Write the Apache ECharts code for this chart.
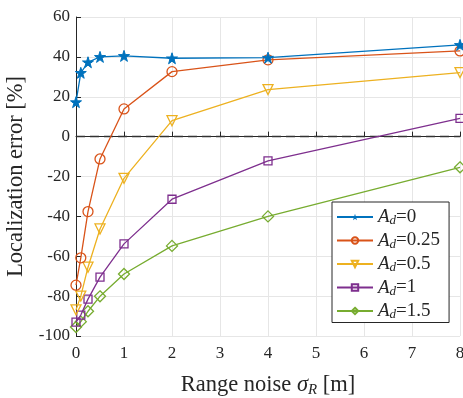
<!DOCTYPE html>
<html><head><meta charset="utf-8">
<script src="https://cdn.jsdelivr.net/npm/echarts@6/dist/echarts.min.js"></script>
<style>html,body{margin:0;padding:0;background:#fff}#c{width:463px;height:398px}</style>
</head><body><div id="c"></div>
<script>
const xValues = [0, 0.1, 0.25, 0.5, 1, 2, 4, 8];
const seriesNames = ['A_d=0', 'A_d=0.25', 'A_d=0.5', 'A_d=1', 'A_d=1.5'];
const legendLabels = ['0', '0.25', '0.5', '1', '1.5'];
const ad0 = [17.3, 32, 37.3, 40, 40.5, 39.3, 39.6, 46];
const ad025 = [-74.5, -60.8, -37.6, -11.2, 13.9, 32.6, 38.5, 43];
const ad05 = [-86.9, -80, -65.5, -46.3, -20.9, 8, 23.6, 32.1];
const ad1 = [-93, -89.5, -81.5, -70.5, -53.8, -31.4, -12.2, 9.2];
const ad15 = [-95.5, -92.8, -87.6, -80.1, -68.9, -54.8, -40, -15.4];
const yTicks = [-100, -80, -60, -40, -20, 0, 20, 40, 60];
const xTicks = [0, 1, 2, 3, 4, 5, 6, 7, 8];

const colors = ['#0072BD', '#D95319', '#EDB120', '#7E2F8E', '#77AC30'];
const symbols = [
  'path://M50,0 L61.8,35.3 L98.6,35.3 L68.9,57.1 L80.2,92.4 L50,70.6 L19.8,92.4 L31.1,57.1 L1.4,35.3 L38.2,35.3 Z',
  'circle',
  'path://M0,0 L100,0 L50,86 Z',
  'rect',
  'diamond'
];
const sizes = [11, 10, 10, 8, 11];
const allData = [ad0, ad025, ad05, ad1, ad15];
const serif = '"Liberation Serif", "DejaVu Serif", serif';

const series = allData.map((d, i) => ({
  name: seriesNames[i],
  type: 'line',
  data: xValues.map((x, j) => [x, d[j]]),
  symbol: symbols[i],
  symbolSize: sizes[i],
  showSymbol: true,
  z: 10 - i,
  lineStyle: { color: colors[i], width: 1.3 },
  itemStyle: i === 0 ? { color: colors[i], borderColor: colors[i] } :
    { color: 'rgba(255,255,255,0)', borderColor: colors[i], borderWidth: 1.3 },
  emphasis: { disabled: true },
  markLine: i === 0 ? {
    silent: true, symbol: 'none', animation: false,
    label: { show: false },
    lineStyle: { color: '#333', type: [9, 5], width: 1.3 },
    data: [{ yAxis: 0 }]
  } : undefined
}));

const chart = echarts.init(document.getElementById('c'));
chart.setOption({
  animation: false,
  backgroundColor: '#fff',
  grid: { left: 76, right: 3, top: 17, bottom: 62, containLabel: false, outerBoundsMode: 'none' },
  xAxis: {
    type: 'value', min: 0, max: 8, interval: 1,
    axisLine: { lineStyle: { color: '#262626', width: 1 } },
    axisTick: { inside: true, length: 5, lineStyle: { color: '#262626' } },
    axisLabel: { color: '#262626', fontFamily: serif, fontSize: 17, margin: 9,
      formatter: v => String(xTicks[xTicks.indexOf(v)]) },
    splitLine: { show: true, lineStyle: { color: '#e6e6e6', width: 1 } },
    name: 'Range noise {i|σ}{s|R} [m]',
    nameLocation: 'middle', nameGap: 37,
    nameTextStyle: { color: '#262626', fontFamily: serif, fontSize: 22.5,
      rich: {
        i: { fontFamily: serif, fontStyle: 'italic', fontSize: 22.5, color: '#262626' },
        s: { fontFamily: serif, fontStyle: 'italic', fontSize: 15, color: '#262626', padding: [10, 0, 0, 0] }
      } }
  },
  yAxis: {
    type: 'value', min: -100, max: 60, interval: 20,
    axisLine: { show: true, lineStyle: { color: '#262626', width: 1 } },
    axisTick: { show: true, inside: true, length: 5, lineStyle: { color: '#262626' } },
    axisLabel: { color: '#262626', fontFamily: serif, fontSize: 17, margin: 6,
      formatter: v => String(yTicks[yTicks.indexOf(v)]) },
    splitLine: { show: true, lineStyle: { color: '#e6e6e6', width: 1 } },
    name: 'Localization error [%]',
    nameLocation: 'middle', nameGap: 33,
    nameTextStyle: { color: '#262626', fontFamily: serif, fontSize: 22.5 }
  },
  legend: {
    left: 332, top: 202, orient: 'vertical',
    backgroundColor: '#fff', borderColor: '#262626', borderWidth: 1,
    padding: [5, 9, 1, 4], itemGap: 3, itemWidth: 36, itemHeight: 8,
    data: seriesNames,
    formatter: name => '{a|A}{b|d}{c|=' + legendLabels[seriesNames.indexOf(name)] + '}',
    textStyle: {
      color: '#262626', fontFamily: serif, fontSize: 19, lineHeight: 20,
      rich: {
        a: { fontFamily: serif, fontStyle: 'italic', fontSize: 19, color: '#262626', lineHeight: 20 },
        b: { fontFamily: serif, fontStyle: 'italic', fontSize: 13, color: '#262626', padding: [8, 0, 0, 0] },
        c: { fontFamily: serif, fontSize: 19, color: '#262626', lineHeight: 20 }
      }
    }
  },
  series: series
});
</script></body></html>
